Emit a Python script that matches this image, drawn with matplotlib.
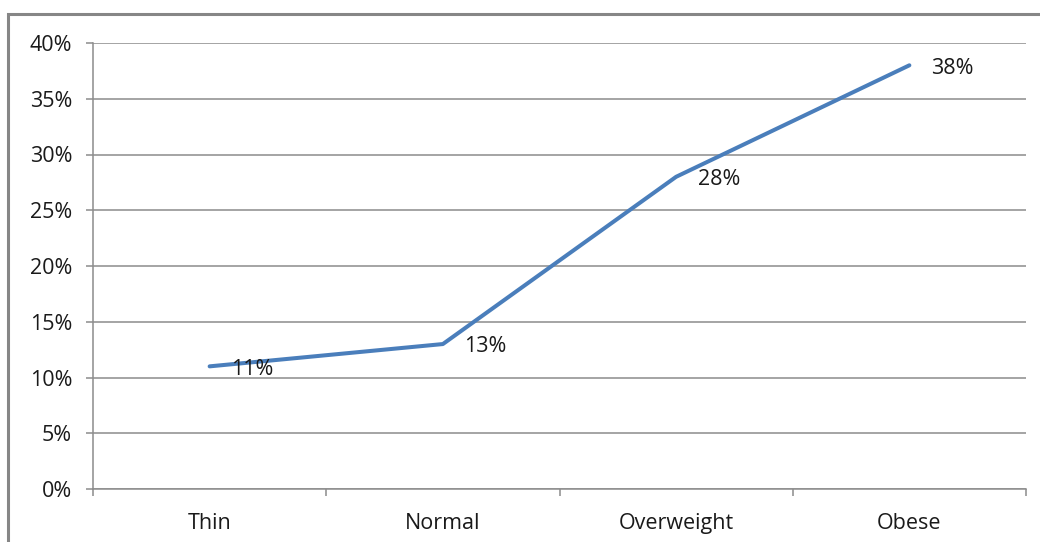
import matplotlib.pyplot as plt
from matplotlib.patches import Rectangle
from matplotlib.ticker import FixedLocator, NullFormatter

categories = ["Thin", "Normal", "Overweight", "Obese"]
values = [0.11, 0.13, 0.28, 0.38]
y_ticks = [0.0, 0.05, 0.10, 0.15, 0.20, 0.25, 0.30, 0.35, 0.40]
y_labels = ["0%", "5%", "10%", "15%", "20%", "25%", "30%", "35%", "40%"]

plt.rcParams["font.family"] = ["Open Sans", "DejaVu Sans"]

W, H = 1040, 542
fig = plt.figure(figsize=(W / 100, H / 100), dpi=100)

# outer chart frame (extends beyond right and bottom edges)
fig.patches.append(Rectangle((8 / W, -0.05), 1.2, (H - 14) / H + 0.05,
                             transform=fig.transFigure, fill=False,
                             edgecolor="#868686", linewidth=2.2))

ax = fig.add_axes([93 / W, (H - 489) / H, (1026 - 93) / W, (489 - 43) / H])

x = [i + 0.5 for i in range(len(categories))]
ax.plot(x, values, color="#4A7EBB", linewidth=2.9, solid_capstyle="round", zorder=3)

FS = 15.5
TXT = "#1a1a1a"
for xi, v in zip(x, values):
    ax.annotate(f"{round(v * 100)}%", (xi, v), xytext=(15.5, -2),
                textcoords="offset points", ha="left", va="center",
                fontsize=FS, color=TXT, zorder=4)

ax.set_xlim(0, len(categories))
ax.set_ylim(0, 0.40)

ax.set_yticks(y_ticks)
ax.set_yticklabels(y_labels, fontsize=FS, color=TXT)
ax.yaxis.grid(True, color="#8c8c8c", linewidth=1.1)
ax.set_axisbelow(True)

ax.xaxis.set_major_locator(FixedLocator(range(len(categories) + 1)))
ax.xaxis.set_major_formatter(NullFormatter())
ax.xaxis.set_minor_locator(FixedLocator(x))
ax.set_xticklabels(categories, minor=True, fontsize=FS, color=TXT)
ax.tick_params(axis="x", which="major", length=5, color="#8c8c8c", width=1.1)
ax.tick_params(axis="x", which="minor", length=0, pad=17)
ax.tick_params(axis="y", length=5, color="#8c8c8c", width=1.1, pad=10)

for side in ("top", "right"):
    ax.spines[side].set_visible(False)
for side in ("left", "bottom"):
    ax.spines[side].set_color("#8c8c8c")
    ax.spines[side].set_linewidth(1.1)

fig.savefig("out.png", dpi=100)
